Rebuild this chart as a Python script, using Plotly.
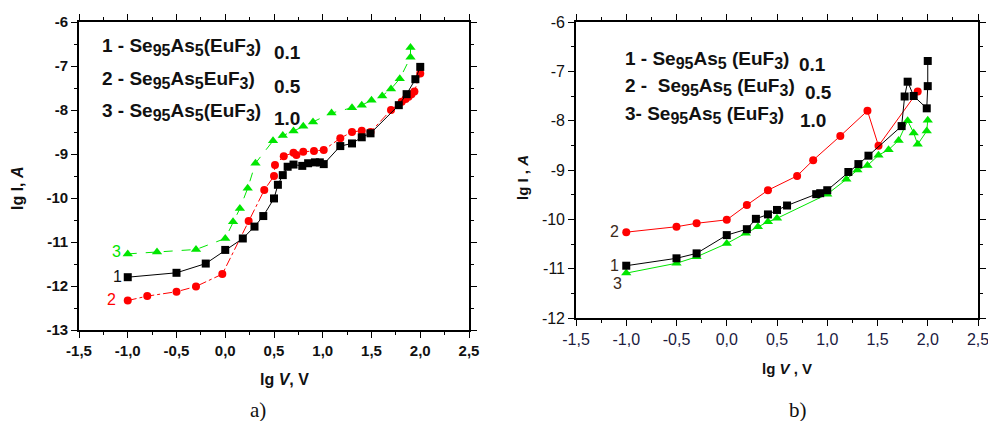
import plotly.graph_objects as go

W, H = 988, 421

# ---------------- data: panel a) ----------------
a1_x = [-1.0, -0.5, -0.2, 0.0, 0.18, 0.30, 0.39, 0.50, 0.54, 0.59, 0.64, 0.70, 0.79, 0.85, 0.92, 0.97, 1.01,
        1.18, 1.30, 1.40, 1.49, 1.78, 1.86, 1.95, 2.0]
a1_y = [-11.80, -11.70, -11.49, -11.18, -10.92, -10.65, -10.41, -10.01, -9.70, -9.48, -9.29, -9.24, -9.27,
        -9.21, -9.19, -9.19, -9.23, -8.82, -8.76, -8.62, -8.53, -7.89, -7.64, -7.30, -7.02]

a2_x = [-1.0, -0.8, -0.5, -0.3, -0.03, 0.24, 0.40, 0.50, 0.51, 0.60, 0.70, 0.73, 0.80, 0.91, 1.01, 1.18,
        1.30, 1.40, 1.49, 1.70, 1.81, 1.85, 1.88, 1.91, 1.94, 2.0]
a2_y = [-12.33, -12.23, -12.13, -12.01, -11.73, -10.52, -9.82, -9.50, -9.25, -9.05, -8.97, -9.02, -8.95,
        -8.93, -8.91, -8.64, -8.50, -8.47, -8.50, -8.00, -7.81, -7.75, -7.70, -7.64, -7.58, -7.17]

a3_x = [-1.0, -0.7, -0.3, 0.0, 0.08, 0.15, 0.23, 0.31, 0.49, 0.59, 0.70, 0.80, 0.90, 1.09, 1.30, 1.40,
        1.50, 1.61, 1.70, 1.79, 1.90, 1.90]
a3_y = [-11.27, -11.23, -11.17, -10.92, -10.54, -10.24, -9.78, -9.21, -8.70, -8.58, -8.48, -8.37, -8.27,
        -8.07, -7.95, -7.89, -7.78, -7.68, -7.52, -7.29, -6.80, -6.58]

# ---------------- data: panel b) ----------------
b1_x = [-1.0, -0.5, -0.3, 0.0, 0.2, 0.29, 0.41, 0.50, 0.60, 0.89, 0.93, 1.0, 1.21, 1.31, 1.41, 1.74, 1.77,
        1.80, 1.86, 1.99, 2.0, 2.0]
b1_y = [-10.94, -10.79, -10.69, -10.32, -10.20, -9.99, -9.90, -9.81, -9.72, -9.49, -9.47, -9.41, -9.04,
        -8.88, -8.71, -8.11, -7.51, -7.21, -7.50, -7.75, -7.30, -6.79]

b2_x = [-1.0, -0.5, -0.3, 0.0, 0.2, 0.41, 0.70, 0.86, 1.13, 1.40, 1.51, 1.90]
b2_y = [-10.26, -10.15, -10.08, -10.01, -9.71, -9.41, -9.12, -8.80, -8.31, -7.80, -8.51, -7.41]

b3_x = [-1.0, -0.5, -0.3, 0.0, 0.19, 0.31, 0.41, 0.50, 1.0, 1.19, 1.30, 1.40, 1.51, 1.61, 1.71, 1.80,
        1.86, 1.90, 1.99, 2.0]
b3_y = [-11.09, -10.89, -10.76, -10.49, -10.28, -10.15, -10.05, -9.98, -9.49, -9.19, -9.00, -8.91, -8.70,
        -8.59, -8.40, -8.00, -8.25, -8.48, -8.21, -7.99]

# ---------------- tick labels ----------------
x_tickvals = [-1.5, -1.0, -0.5, 0.0, 0.5, 1.0, 1.5, 2.0, 2.5]
x_ticktext = ["-1,5", "-1,0", "-0,5", "0,0", "0,5", "1,0", "1,5", "2,0", "2,5"]
ya_tickvals = [-13, -12, -11, -10, -9, -8, -7, -6]
yb_tickvals = [-12, -11, -10, -9, -8, -7, -6]

SUB = '<sub><span style="font-size:{fs}px">{t}</span></sub>'


def formula(prefix, sep, paren_open, fs):
    s = lambda t: SUB.format(fs=fs, t=t)
    return f"{prefix}Se{s('95')}As{s('5')}{sep}{paren_open}EuF{s('3')})"


legend_a_prefix = ["1 - ", "2 - ", "3 - "]
legend_b_prefix = ["1 - ", "2 -  ", "3- "]
conc = ["0.1", "0.5", "1.0"]

BLACK, RED, GREEN = "#000000", "#ff0000", "#00e600"
FONT = "Liberation Sans, Arial, sans-serif"


def px(x):
    return x / W


def py(y):
    return 1 - y / H


fig = go.Figure()


def add(x, y, color, symbol, size, dash, xa, ya):
    fig.add_trace(go.Scatter(
        x=x, y=y, mode="lines+markers", xaxis=xa, yaxis=ya, showlegend=False,
        line=dict(color=color, width=1, dash=dash),
        marker=dict(color=color, symbol=symbol, size=size, line=dict(width=0)),
    ))


add(a3_x, a3_y, GREEN, "triangle-up", 9, "dash", "x", "y")
add(a2_x, a2_y, RED, "circle", 8, "dashdot", "x", "y")
add(a1_x, a1_y, BLACK, "square", 8, "solid", "x", "y")

add(b3_x, b3_y, GREEN, "triangle-up", 9, "solid", "x2", "y2")
add(b2_x, b2_y, RED, "circle", 8, "solid", "x2", "y2")
add(b1_x, b1_y, BLACK, "square", 8, "solid", "x2", "y2")


def xaxis(domain, bold, size, anchor):
    return dict(
        domain=domain, range=[-1.5, 2.5], tickmode="array", tickvals=x_tickvals, ticktext=x_ticktext,
        anchor=anchor, automargin=False, ticklabeloverflow="allow",
        showline=True, linecolor="black", linewidth=1.6, mirror="ticks", ticks="outside", ticklen=6,
        tickwidth=1.3, tickcolor="black", showgrid=False, zeroline=False,
        tickfont=dict(family=FONT, size=size, color="#111" if bold else "#1a1a40",
                      weight="bold" if bold else "normal"),
        minor=dict(tickmode="linear", tick0=-1.5, dtick=0.25, ticks="outside", ticklen=3,
                   tickwidth=1, tickcolor="black", showgrid=False),
    )


def yaxis(domain, rng, tv, anchor, bold, size):
    return dict(
        domain=domain, range=rng, tickmode="array", tickvals=tv, ticktext=[str(v) for v in tv],
        anchor=anchor, automargin=False, ticklabeloverflow="allow",
        showline=True, linecolor="black", linewidth=1.6, mirror="ticks",
        ticks="outside", ticklen=6, tickwidth=1.3, tickcolor="black", showgrid=False, zeroline=False,
        tickfont=dict(family=FONT, size=size, color="#111", weight="bold" if bold else "normal"),
        minor=dict(tickmode="linear", tick0=-13, dtick=0.5, ticks="outside", ticklen=3,
                   tickwidth=1, tickcolor="black", showgrid=False),
    )


ann = []


def text(x, y, s, size=16, color="#111", bold=True, xanchor="center", family=FONT, angle=0):
    ann.append(dict(x=px(x), y=py(y), xref="paper", yref="paper", text=s, showarrow=False,
                    xanchor=xanchor, yanchor="middle", textangle=angle, align="left",
                    font=dict(family=family, size=size, color=color,
                              weight="bold" if bold else "normal")))


# legends panel a
for i, yy in enumerate([47, 80, 112]):
    paren = "" if i == 1 else "("
    text(100, yy, formula(legend_a_prefix[i], "", paren, 16), size=19, xanchor="left")
    text(272, yy + 6, conc[i], size=19, xanchor="left")
# legends panel b
for i, yy in enumerate([60, 87, 115]):
    text(623, yy, formula(legend_b_prefix[i], " ", "(", 16), size=19, xanchor="left")
    text([797, 803, 798][i], yy + 5, conc[i], size=19, xanchor="left")

# curve numbers
text(116, 251, "3", size=16, color=GREEN, bold=False)
text(117, 276, "1", size=16, color="#111", bold=False)
text(111, 299, "2", size=16, color=RED, bold=False)
text(614, 232, "2", size=16, color="#3a2a1a", bold=False)
text(614, 265, "1", size=16, color="#3a2a1a", bold=False)
text(617, 283, "3", size=16, color="#3a2a1a", bold=False)

# axis titles
text(284, 379, "lg <i>V</i>, V", size=16)
text(787, 368, "lg <i>V</i> , V", size=15)
text(18, 188, "lg I, <i>A</i>", size=16, angle=-90)
text(522, 178, "lg I , <i>A</i>", size=15, angle=-90)

# captions
text(258, 410, "a)", size=21, bold=False, family="Liberation Serif, Times New Roman, serif")
text(798, 410, "b)", size=21, bold=False, family="Liberation Serif, Times New Roman, serif")

fig.update_layout(
    width=W, height=H, margin=dict(l=0, r=0, t=0, b=0, autoexpand=False),
    paper_bgcolor="white", plot_bgcolor="white",
    xaxis=xaxis([px(79), px(469)], True, 15, "y"),
    yaxis=yaxis([py(330), py(22)], [-13, -6], ya_tickvals, "x", True, 15),
    xaxis2=xaxis([px(576), px(978)], False, 16, "y2"),
    yaxis2=yaxis([py(318), py(22)], [-12, -6], yb_tickvals, "x2", False, 16),
    annotations=ann,
)

fig.write_html("out.html", config={"displayModeBar": False},
               post_script="document.body.style.margin='0';document.body.style.overflow='hidden';")
